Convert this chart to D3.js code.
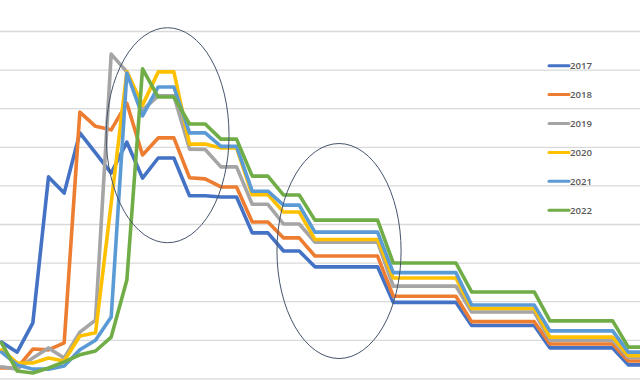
<!DOCTYPE html>
<html>
<head>
<meta charset="utf-8">
<script src="https://cdn.jsdelivr.net/npm/d3@7"></script>
<style>
  html, body { margin: 0; padding: 0; background: #fff; }
  svg { display: block; }
</style>
</head>
<body>
<svg id="chart" width="640" height="381"></svg>
<script>
// ---- data (gridline step = 10) ----
const weeks = d3.range(0, 42);
const seriesNames = ["2017", "2018", "2019", "2020", "2021", "2022"];
const colors = ["#4472C4", "#ED7D31", "#A5A5A5", "#FFC000", "#5B9BD5", "#70AD47"];

const s2017 = [9.4, 6.8, 14.4, 52.2, 48.0, 63.6, 58.4, 53.2, 61.2, 51.9, 57.1, 57.1, 47.3, 47.3, 47.0, 47.0, 37.7, 37.7, 33.0, 33.0,
  28.9, 28.9, 28.9, 28.9, 28.9, 19.7, 19.7, 19.7, 19.7, 19.7, 13.7, 13.7, 13.7, 13.7, 13.7, 7.9, 7.9, 7.9, 7.9, 7.9, 3.5, 3.5];
const s2018 = [2.7, 2.7, 7.6, 7.4, 9.2, 69.0, 65.3, 64.4, 71.3, 57.9, 62.3, 62.3, 52.0, 51.7, 49.6, 49.6, 40.5, 40.5, 36.4, 36.4,
  31.7, 31.7, 31.7, 31.7, 31.7, 21.3, 21.3, 21.3, 21.3, 21.3, 14.7, 14.7, 14.7, 14.7, 14.7, 8.9, 8.9, 8.9, 8.9, 8.9, 4.5, 4.5];
const s2019 = [3.0, 2.4, 5.3, 7.9, 5.3, 12.0, 15.1, 84.0, 79.4, 69.5, 73.2, 73.2, 59.4, 59.3, 54.8, 54.8, 45.1, 45.1, 40.0, 40.0,
  35.3, 35.3, 35.3, 35.3, 35.3, 23.9, 23.9, 23.9, 23.9, 23.9, 17.2, 17.2, 17.2, 17.2, 17.2, 9.9, 9.9, 9.9, 9.9, 9.9, 5.4, 5.4];
const s2020 = [7.4, 4.0, 4.0, 5.3, 4.5, 11.0, 11.8, 45.4, 79.5, 70.8, 79.4, 79.4, 60.7, 60.7, 59.7, 59.7, 47.6, 47.6, 43.1, 43.1,
  36.0, 36.0, 36.0, 36.0, 36.0, 26.0, 26.0, 26.0, 26.0, 26.0, 18.1, 18.1, 18.1, 18.1, 18.1, 10.7, 10.7, 10.7, 10.7, 10.7, 5.9, 5.9];
const s2021 = [6.8, 3.5, 2.4, 2.4, 3.2, 7.4, 9.9, 15.9, 79.1, 68.0, 75.5, 75.5, 63.6, 63.6, 60.1, 60.1, 48.5, 48.5, 44.9, 44.9,
  37.9, 37.9, 37.9, 37.9, 37.9, 27.4, 27.4, 27.4, 27.4, 27.4, 19.0, 19.0, 19.0, 19.0, 19.0, 12.3, 12.3, 12.3, 12.3, 12.3, 6.8, 6.8];
const s2022 = [9.2, 1.9, 1.4, 2.7, 4.3, 6.1, 7.1, 10.7, 25.5, 80.2, 72.9, 72.9, 65.9, 65.9, 62.0, 62.0, 52.4, 52.4, 47.5, 47.5,
  41.0, 41.0, 41.0, 41.0, 41.0, 29.9, 29.9, 29.9, 29.9, 29.9, 22.4, 22.4, 22.4, 22.4, 22.4, 14.9, 14.9, 14.9, 14.9, 14.9, 8.1, 8.1];
const gridValues = [0, 10, 20, 30, 40, 50, 60, 70, 80, 90];

// annotation ellipses, in data coordinates (center week, center value, half-width in weeks, half-height in value units)
const annotations = [
  { cx: 10.6, cy: 63.0, rx: 3.92, ry: 27.85 },
  { cx: 21.54, cy: 33.0, rx: 3.96, ry: 27.85 }
];

const allSeries = [s2017, s2018, s2019, s2020, s2021, s2022];

// ---- drawing ----
const svg = d3.select("#chart");
const W = 640, H = 381;

const x = d3.scaleLinear().domain([0, 41]).range([1.5, 1.5 + 15.67 * 41]);
const y = d3.scaleLinear().domain([0, 100]).range([378.4, 378.4 - 386]);

svg.append("rect").attr("width", W).attr("height", H).attr("fill", "#fff");

// gridlines via axis
const yAxis = d3.axisLeft(y).tickValues(gridValues).tickSize(-W).tickFormat("");
const g = svg.append("g").call(yAxis);
g.select(".domain").remove();
g.selectAll(".tick line").attr("stroke", "#d9d9d9").attr("stroke-width", 1.3);

const line = d3.line().x((d, i) => x(weeks[i])).y(d => y(d));

svg.append("g").selectAll("path")
  .data(allSeries)
  .join("path")
  .attr("d", d => line(d))
  .attr("fill", "none")
  .attr("stroke", (d, i) => colors[i])
  .attr("stroke-width", 3.6)
  .attr("stroke-linejoin", "round")
  .attr("stroke-linecap", "round");

// annotation ellipses
svg.append("g").selectAll("ellipse")
  .data(annotations)
  .join("ellipse")
  .attr("cx", d => x(d.cx))
  .attr("cy", d => y(d.cy))
  .attr("rx", d => x(d.rx) - x(0))
  .attr("ry", d => y(0) - y(d.ry))
  .attr("fill", "none")
  .attr("stroke", "#44546A")
  .attr("stroke-width", 1);

// legend
const legend = svg.append("g").attr("transform", "translate(549,65.7)");
const items = legend.selectAll("g").data(seriesNames).join("g")
  .attr("transform", (d, i) => `translate(0,${i * 28.9})`);
items.append("line")
  .attr("x1", 0).attr("x2", 20).attr("y1", 0).attr("y2", 0)
  .attr("stroke", (d, i) => colors[i])
  .attr("stroke-width", 3)
  .attr("stroke-linecap", "round");
items.append("text")
  .attr("x", 21).attr("y", 3.6)
  .attr("font-family", "Open Sans, Liberation Sans, Arial, sans-serif")
  .attr("font-size", 9.6)
  .attr("font-weight", 600)
  .attr("fill", "#595959")
  .text(d => d);
</script>
</body>
</html>
